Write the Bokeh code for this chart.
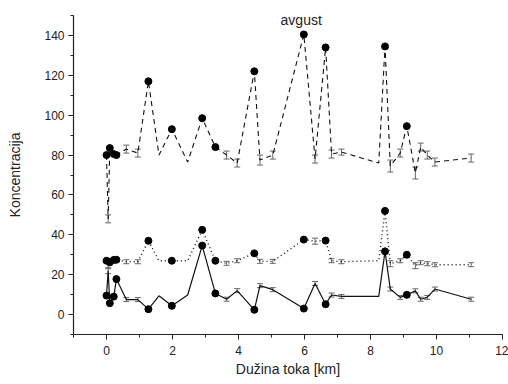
import pandas as pd
from bokeh.plotting import figure
from bokeh.models import ColumnDataSource, Range1d, Label, Whisker, TeeHead, SingleIntervalTicker
from bokeh.embed import file_html
from bokeh.resources import INLINE

# distance along the stream [km]
x_km = [0.0, 0.05, 0.1, 0.22, 0.3, 0.6, 0.95, 1.27, 1.59, 1.98, 2.46, 2.9, 3.3, 3.64, 3.96,
        4.48, 4.65, 5.04, 5.98, 6.32, 6.64, 6.82, 7.12, 8.25, 8.44, 8.6, 8.9, 9.1, 9.36,
        9.52, 9.72, 9.95, 11.05]

# marker kind at each station: dot = measured point, bar = point with error bar, none = plain vertex
kind = ["dot", "bar", "dot", "dot", "dot", "bar", "bar", "dot", "none", "dot", "none", "dot", "dot",
        "bar", "bar", "dot", "bar", "bar", "dot", "bar", "dot", "bar", "bar", "none", "dot", "bar",
        "bar", "dot", "bar", "bar", "bar", "bar", "bar"]

# dashed series (top)
dashed_y = [80, 48, 83.5, 80.5, 80, 83, 81, 117, 80, 93, 76.5, 98.5, 84, 80, 76,
            122, 77.5, 80, 140.5, 78, 134, 80.5, 81.5, 76, 134.5, 74.5, 81, 94.5, 71,
            84, 80, 76.5, 78.5]
dashed_err = [2, 2, 2.5, 1.5, 1.5, 2, 2, 2, 1.5, 2, 1.5, 2, 1.5, 2, 2,
              2, 2.5, 2, 2, 2, 2.5, 2, 1.5, 1.5, 2, 3, 2, 2, 3,
              2, 2, 2, 2]

# dotted series (middle)
dotted_y = [27, 25, 26.2, 27.4, 27.5, 26.5, 26.5, 37, 27, 27, 27, 42.5, 27, 25.7, 27,
            30.7, 26.7, 26.7, 37.6, 36.8, 37.1, 27, 26.5, 27, 52, 25.5, 27, 30, 24.5,
            26, 25.5, 25, 25]
dotted_err = [1.5, 2, 1.5, 1.5, 1.5, 1, 1, 1.5, 1, 1.5, 1, 1.5, 1, 1, 1,
              1.5, 1, 1, 1.5, 1.5, 1.5, 1, 1, 1, 2, 1.5, 1, 1.5, 1.5,
              1, 1, 1, 1]

# solid series (bottom)
solid_y = [9.5, 22, 5.7, 9, 17.8, 7.5, 7.5, 2.7, 9.4, 4.4, 9.8, 34.6, 10.6, 7.7, 12,
           2.4, 14.5, 12.5, 3, 15.6, 5.2, 9.8, 9.1, 9.1, 31.7, 12.8, 8.6, 9.9, 11.9,
           7.7, 8.6, 12.8, 7.7]
solid_err = [1, 1.5, 1, 1, 1, 1, 1, 1, 1, 1, 1, 1.5, 1, 1, 1,
             1, 1, 1, 1, 1, 1, 1, 1, 1, 1.5, 1, 1, 1, 1,
             1, 1, 1, 1]

title_text = "avgust"
x_label = "Dužina toka [km]"
y_label = "Koncentracija"

FONT = "Liberation Sans"

p = figure(width=508, height=384, output_backend="svg", toolbar_location=None,
           x_range=Range1d(-1, 12), y_range=Range1d(-10, 150),
           min_border_left=73, min_border_right=6, min_border_top=15, min_border_bottom=50)
p.outline_line_color = None
p.xgrid.visible = False
p.ygrid.visible = False
p.background_fill_color = "white"
p.border_fill_color = "white"

p.xaxis.ticker = SingleIntervalTicker(interval=2, num_minor_ticks=2)
p.yaxis.ticker = SingleIntervalTicker(interval=20, num_minor_ticks=2)
for ax in (p.xaxis, p.yaxis):
    ax.axis_line_color = "#222222"
    ax.axis_line_width = 1.2
    ax.major_tick_line_color = "#222222"
    ax.minor_tick_line_color = "#222222"
    ax.major_tick_in = 0
    ax.major_tick_out = 5
    ax.minor_tick_in = 0
    ax.minor_tick_out = 3
    ax.major_label_text_font = FONT
    ax.major_label_text_font_size = "12px"
    ax.major_label_text_color = "#222222"
    ax.axis_label_text_font = FONT
    ax.axis_label_text_font_size = "14px"
    ax.axis_label_text_font_style = "normal"
    ax.axis_label_text_color = "#222222"
p.xaxis.axis_label = x_label
p.yaxis.axis_label = y_label
p.xaxis.major_label_standoff = 6
p.xaxis.axis_label_standoff = 3
p.yaxis.major_label_standoff = 4
p.yaxis.axis_label_standoff = 18

series = [
    (dashed_y, dashed_err, "5 4", 1.1),
    (dotted_y, dotted_err, "1 3", 1.4),
    (solid_y, solid_err, "solid", 1.2),
]

for ys, errs, dash, lw in series:
    df = pd.DataFrame({"x": x_km, "y": ys, "err": errs, "kind": kind})
    df["upper"] = df["y"] + df["err"]
    df["lower"] = df["y"] - df["err"]
    p.line("x", "y", source=ColumnDataSource(df), line_color="#111111",
           line_width=lw, line_dash=dash)
    bars = ColumnDataSource(df[df["kind"] == "bar"])
    p.add_layout(Whisker(source=bars, base="x", upper="upper", lower="lower",
                         line_color="#666666", line_width=1,
                         upper_head=TeeHead(size=6, line_color="#666666", line_width=1),
                         lower_head=TeeHead(size=6, line_color="#666666", line_width=1)))
    dots = ColumnDataSource(df[df["kind"] == "dot"])
    p.scatter("x", "y", source=dots, size=7, marker="circle",
              fill_color="black", line_color="black")

p.add_layout(Label(x=5.9, y=147.5, text=title_text, text_align="center",
                   text_baseline="middle", text_font=FONT, text_font_size="14px",
                   text_color="#222222"))

open("out.html", "w").write(file_html(p, INLINE))
